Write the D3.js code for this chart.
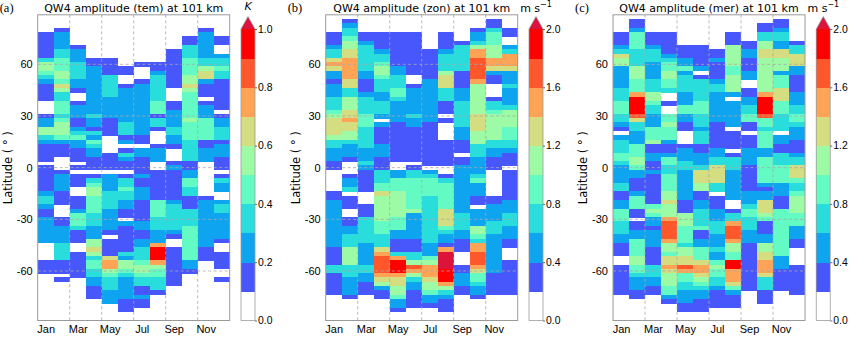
<!DOCTYPE html>
<html>
<head>
<meta charset="utf-8">
<script src="https://cdn.jsdelivr.net/npm/d3@7"></script>
<style>
  body { margin: 0; background: #fff; }
  svg { display: block; font-family: "DejaVu Sans", sans-serif; }
</style>
</head>
<body>
<div id="chart"></div>
<script>
// Axis labels
const months = ["Jan", "Feb", "Mar", "Apr", "May", "Jun", "Jul", "Aug", "Sep", "Oct", "Nov", "Dec"];
const monthTicks = [1, 3, 5, 7, 9, 11];
const latTicks = [60, 30, 0, -30, -60];
const cbTicksTem = [0, 0.2, 0.4, 0.6, 0.8, 1.0];
const cbTicksWind = [0, 0.4, 0.8, 1.2, 1.6, 2.0];

// latitude bin centres (2.5 deg), north to south
const rowLats = d3.range(87.5, -88.75, -2.5);

// One string per month, one char per latitude bin (north -> south).
// Char = amplitude class: "." no data, "1".."9" = class, "a" = above max.
// (spaces only group the bins by ten)
const temCols = [
  "....111111 3554321111 ...1225532 1111.11111 1233211222 222....111 .......... .",
  "...1222233 4445546533 4443455542 111...1222 2111...112 2223333111 .1........ .",
  ".......122 23333221.. 1222112342 2111.1.111 ..11124443 111..11111 1......... .",
  ".......... 1122222222 2223221324 322111.134 5544443332 2255653443 322111.... .",
  ".......... 1111333332 22221111.. ..1111.222 2333322222 1.11116775 4333222... .",
  ".......... ..11..1222 2222233312 .13211.133 4332211.21 1111132554 322222111. .",
  ".......... .1...12222 2222222211 .221111211 2221111122 1122333455 43311211.. .",
  ".......... .112333333 4441331... 1222..1111 1114444333 2227999754 43331..... .",
  "........11 1111111... 1122223322 1...121111 1112333333 21..111111 111....... .",
  ".....11333 4444556544 4444544443 3333112244 3311133334 4444444221 .......... .",
  "...1222222 335662111. 1222444441 1222...... ..12222222 2222111... .......... .",
  ".....11..2 3343311111 11.1223331 222111.132 2..2332222 221..1111. .1........ ."
];

const zonCols = [
  "....111233 6762212223 3345666653 322211.... .112222222 2222111133 11111..... .",
  ".123345566 7777766335 5566766553 2221...122 3.111..112 2333555533 322221.... .",
  "....112333 3332211123 3334443333 3222321111 1...111333 3332222233 22111..... .",
  "....111123 3455433322 3332.21111 2221113334 4655555544 4333678888 765211.... .",
  "....111111 1122333443 2222211111 1111..2244 4555555444 2211137999 766554221. .",
  "....111111 1111..1222 2223221111 1111.13344 4444452222 2211133587 53221111.. .",
  "........11 1111122222 2222211111 11111.2344 4433333333 3332224577 76554221.. .",
  "....111123 3335666333 111.1....1 11111..134 4444466664 32217aaaa9 997532111. .",
  "......1333 3331111222 3333332221 11.1122222 2222223333 22111...11 22211..... .",
  "...1223577 8888875555 5556666555 3332222342 2211.22225 5437788876 443221.... .",
  ".113444555 776211...1 3345555553 322111.... ..11222233 3222222222 11111..... .",
  "...11..237 7762223222 2355554443 32111.1111 1112223332 2211...111 11111..... ."
];

const merCols = [
  "....111236 5522222333 4443321.23 3344322223 3112244433 322111..11 11111..... .",
  ".112444433 3355544479 9998633222 4445542211 1244411.11 2244445544 322211.... .",
  "....111233 3222233355 4332224445 1122112111 1111454221 2222111133 32211..... .",
  "....111112 34455443.. 1..4454442 1124433444 4556555788 8875546676 5554421... .",
  ".......111 2242333322 2442211... 1222332222 2221115554 4443556687 443322211. .",
  ".......111 112.133333 4443332333 1122236665 5112233334 1122444677 654322111. .",
  "........11 2111123322 2222211111 1223366663 3.11122233 3222322454 43321111.. .",
  "....111555 554455552. 222222.111 1.13332222 222..13378 8875544997 77642111.. .",
  "......1122 11122..112 2334411.11 1222211111 1222344333 2221111111 1111...... .",
  "..11335566 5555555579 9998443444 4224444442 1226665411 1225566777 6333111... .",
  ".112332266 5552444666 4443333.22 1133344442 2211144444 4444442221 1111...... .",
  "......1336 6622111122 2334432221 1123366643 3455554442 2211....11 11111..... ."
];

// discrete rainbow levels, lowest class white
const levelColors = ["#ffffff", "#4757fb", "#0ea4f0", "#2adddd", "#63fbc3",
                     "#9cfba4", "#d4dd80", "#ffa457", "#ff572c", "#ff0000"];
const overColor = "#dc143c";

const width = 850, height = 338;
const plotTop = 14.8, plotBottom = 320.5, plotW = 192;
const cbTop = 29, cbW = 14;

const panels = [
  { tag: "(a)", title: "QW4 amplitude (tem) at 101 km", data: temCols, max: 1.0, ticks: cbTicksTem, unit: "K", left: 37.7 },
  { tag: "(b)", title: "QW4 amplitude (zon) at 101 km", data: zonCols, max: 2.0, ticks: cbTicksWind, unit: "ms", left: 325.7 },
  { tag: "(c)", title: "QW4 amplitude (mer) at 101 km", data: merCols, max: 2.0, ticks: cbTicksWind, unit: "ms", left: 613 }
];

const svg = d3.select("#chart").append("svg")
  .attr("width", width)
  .attr("height", height);

panels.forEach(p => {
  const g = svg.append("g");
  const step = p.max / 10;

  const x = d3.scaleLinear().domain([0.5, 12.5]).range([p.left, p.left + plotW]);
  const y = d3.scaleLinear().domain([-88.75, 88.75]).range([plotBottom, plotTop]);
  const color = d3.scaleThreshold()
    .domain(d3.range(1, 11).map(i => +(i * step).toFixed(2)))
    .range([...levelColors, overColor]);

  // cells
  const cells = [];
  p.data.forEach((s, i) => {
    const str = s.replace(/ /g, "");
    rowLats.forEach((lat, k) => {
      const c = str[k];
      if (!c || c === ".") return;
      const level = c === "a" ? 10 : +c;
      cells.push({ month: i + 1, lat, value: (level + 0.5) * step });
    });
  });

  g.append("g")
    .attr("shape-rendering", "crispEdges")
    .selectAll("rect")
    .data(cells)
    .join("rect")
    .attr("x", d => x(d.month - 0.5))
    .attr("y", d => y(d.lat + 1.25))
    .attr("width", d => x(d.month + 0.5) - x(d.month - 0.5) + 0.4)
    .attr("height", d => y(d.lat - 1.25) - y(d.lat + 1.25) + 0.4)
    .attr("fill", d => color(d.value));

  // dashed grid on top of the cells
  const grid = g.append("g")
    .attr("stroke", "#a8a8a8")
    .attr("stroke-width", 0.8)
    .attr("stroke-dasharray", "3,2.5");
  grid.selectAll("line.h")
    .data(latTicks)
    .join("line")
    .attr("x1", p.left).attr("x2", p.left + plotW)
    .attr("y1", d => y(d)).attr("y2", d => y(d));
  grid.selectAll("line.v")
    .data(monthTicks.slice(1))
    .join("line")
    .attr("x1", d => x(d - 0.5)).attr("x2", d => x(d - 0.5))
    .attr("y1", plotTop).attr("y2", plotBottom);

  // frame
  g.append("rect")
    .attr("x", p.left).attr("y", plotTop)
    .attr("width", plotW).attr("height", plotBottom - plotTop)
    .attr("fill", "none")
    .attr("stroke", "#9a9a9a")
    .attr("stroke-width", 1);

  // axes
  const yAxis = g.append("g")
    .attr("transform", `translate(${p.left},0)`)
    .call(d3.axisLeft(y).tickValues(latTicks).tickSize(0).tickPadding(5).tickFormat(d => d));
  yAxis.select(".domain").remove();
  yAxis.selectAll("text").style("font-size", "11px").attr("fill", "#000");

  const xAxis = g.append("g")
    .attr("transform", `translate(0,${plotBottom})`)
    .call(d3.axisBottom(x).tickValues(monthTicks).tickSize(0).tickPadding(5).tickFormat(d => months[d - 1]));
  xAxis.select(".domain").remove();
  xAxis.selectAll("text").style("font-size", "11px").attr("fill", "#000");

  g.append("text")
    .attr("transform", `translate(${p.left - 26},${(plotTop + plotBottom) / 2}) rotate(-90)`)
    .attr("text-anchor", "middle")
    .style("font-size", "11.5px")
    .text("Latitude ( ° )");

  // title + panel tag
  g.append("text")
    .attr("x", p.left + plotW / 2)
    .attr("y", 11.5)
    .attr("text-anchor", "middle")
    .style("font-size", "11px")
    .text(p.title);

  g.append("text")
    .attr("x", p.left - 38)
    .attr("y", 12)
    .style("font-family", "'Liberation Serif', 'DejaVu Serif', serif")
    .style("font-size", "12.5px")
    .text(p.tag);

  // colorbar
  const cbX = p.left + 203.3;
  const cy = d3.scaleLinear().domain([0, p.max]).range([plotBottom, cbTop]);
  const cb = g.append("g");
  cb.append("g")
    .attr("shape-rendering", "crispEdges")
    .selectAll("rect")
    .data(levelColors.map((c, i) => ({ lo: i * step, hi: (i + 1) * step })))
    .join("rect")
    .attr("x", cbX)
    .attr("y", d => cy(d.hi))
    .attr("width", cbW)
    .attr("height", d => cy(d.lo) - cy(d.hi) + 0.4)
    .attr("fill", d => color((d.lo + d.hi) / 2));

  cb.append("path")
    .attr("d", `M${cbX},${cbTop} L${cbX + cbW},${cbTop} L${cbX + cbW / 2},${cbTop - 12.5} Z`)
    .attr("fill", color(p.max * 1.05));

  cb.append("path")
    .attr("d", `M${cbX},${plotBottom} L${cbX},${cbTop} L${cbX + cbW / 2},${cbTop - 12.5} L${cbX + cbW},${cbTop} L${cbX + cbW},${plotBottom} Z`)
    .attr("fill", "none")
    .attr("stroke", "#9a9a9a")
    .attr("stroke-width", 0.8);

  const cbAxis = cb.append("g")
    .attr("transform", `translate(${cbX + cbW},0)`)
    .call(d3.axisRight(cy).tickValues(p.ticks).tickSize(2).tickPadding(1).tickFormat(d3.format(".1f")));
  cbAxis.select(".domain").remove();
  cbAxis.selectAll("line").attr("stroke", "#666");
  cbAxis.selectAll("text").style("font-size", "10.4px").attr("fill", "#000");

  // unit label
  if (p.unit === "K") {
    cb.append("text")
      .attr("x", cbX + cbW / 2)
      .attr("y", 10)
      .attr("text-anchor", "middle")
      .style("font-size", "11px")
      .style("font-style", "italic")
      .text("K");
  } else {
    const u = cb.append("text")
      .attr("x", cbX + cbW / 2)
      .attr("y", 11.5)
      .attr("text-anchor", "middle")
      .style("font-size", "11px");
    u.append("tspan").text("m s");
    u.append("tspan").attr("dy", -4.5).style("font-size", "8px").text("\u22121");
  }
});
</script>
</body>
</html>
